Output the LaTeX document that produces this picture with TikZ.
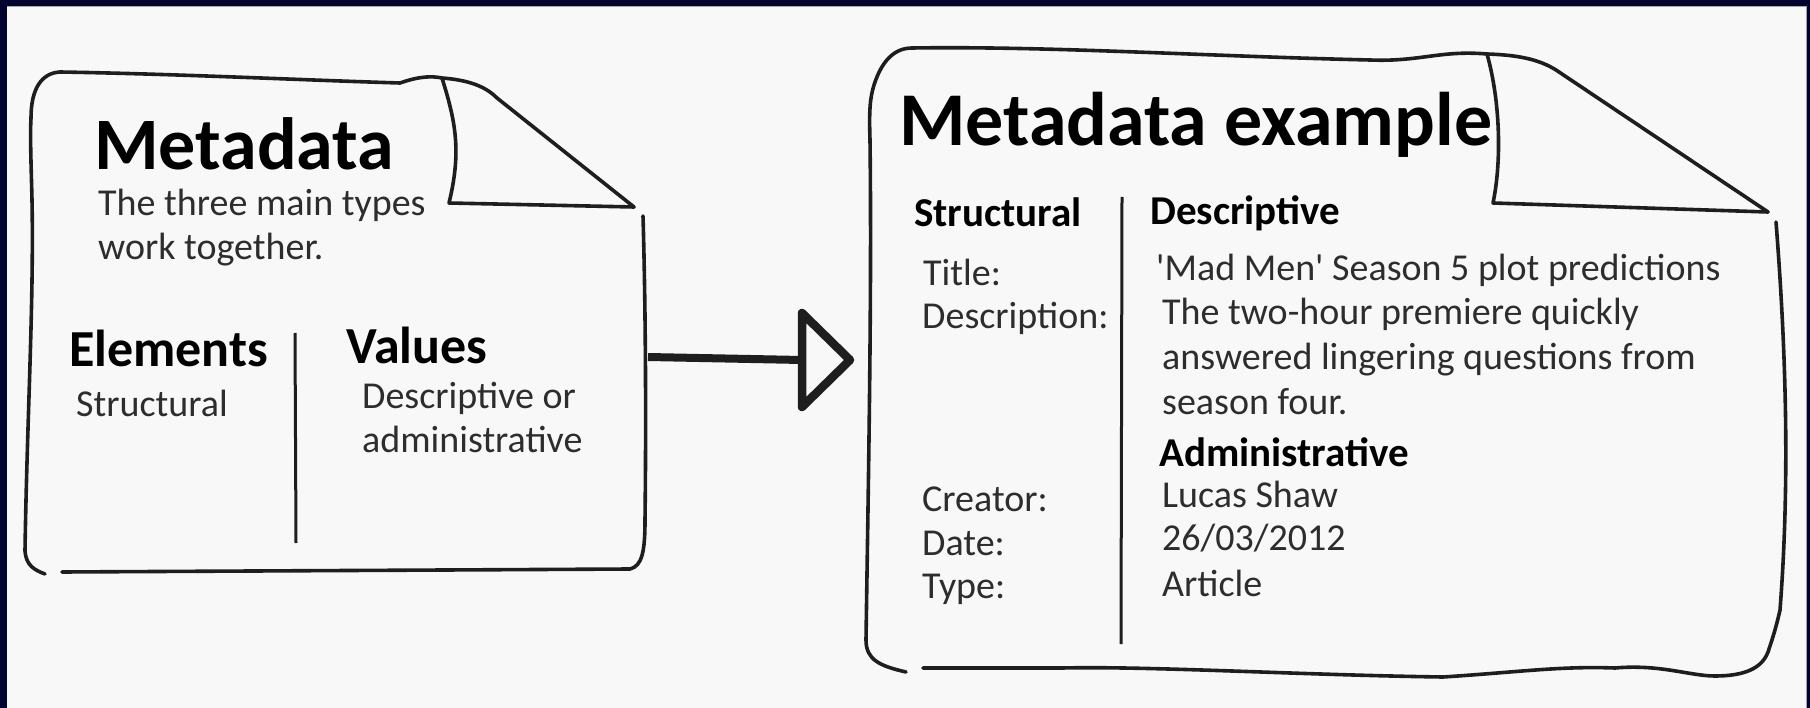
\documentclass[tikz,border=0pt]{standalone}
\usepackage{fontspec}
\setmainfont{Carlito}[Ligatures=TeXOff]
\definecolor{frame}{RGB}{3,3,48}
\definecolor{paper}{RGB}{248,248,248}
\definecolor{ink}{RGB}{30,30,30}
\definecolor{txt}{RGB}{45,45,45}
\tikzset{
  outline/.style={draw=ink, line width=3.6pt, line cap=round, line join=round},
  divider/.style={draw=ink, line width=3pt},
  bigtitle/.style={anchor=base west, inner sep=0pt, font=\fontsize{74}{80}\selectfont\bfseries, text=black},
  headA/.style={anchor=base west, inner sep=0pt, font=\fontsize{52}{56}\selectfont\bfseries, text=black},
  headB/.style={anchor=base west, inner sep=0pt, font=\fontsize{41}{46}\selectfont\bfseries, text=black},
  body/.style={anchor=base west, inner sep=0pt, font=\fontsize{38}{44}\selectfont, text=txt},
}
\begin{document}
\begin{tikzpicture}[x=1pt,y=-1pt]
\useasboundingbox (0,0) rectangle (1810,708);
\fill[frame] (0,0) rectangle (1810,708);
\fill[paper] (7,6) rectangle (1807,708);
\draw[gray!70, line width=1pt] (7,6.5) -- (1806.5,6.5) -- (1806.5,708);

% ---------- left page ----------
\coordinate (L1) at (442,78);
\coordinate (L2) at (634,207);
\draw[outline] (45,574) .. controls (34,570) and (26,565) .. (25,551)
  .. controls (27,420) and (34,300) .. (32,200)
  .. controls (31,160) and (30,135) .. (31,118)
  .. controls (31,88) and (42,73) .. (60,72)
  .. controls (180,74) and (300,80) .. (400,83)
  .. controls (420,76) and (432,76) .. (L1)
  .. controls (468,80) and (485,86) .. (497,98) -- (L2);
\draw[outline] (L1) .. controls (455,120) and (462,150) .. (449,203) -- (L2);
\draw[outline] (643,216) .. controls (646,320) and (646,440) .. (645,520)
  .. controls (645,552) and (642,566) .. (630,569)
  .. controls (450,570) and (250,571) .. (62,572);
\draw[divider] (295,333) -- (296,543);

\node[bigtitle] (lt) at (94,170) {Metadata};
\node[body] (l1) at (98,216) {The three main types};
\node[body] (l2) at (98,260) {work together.};
\node[headA] (le) at (69,367) {Elements};
\node[body] (ls) at (76,417) {Structural};
\node[headA] (lv) at (346,364) {Values};
\node[body] (ld) at (362,409) {Descriptive or};
\node[body] (la) at (362,453) {administrative};

% ---------- arrow ----------
\coordinate (a0) at (648,357);
\coordinate (a1) at (802,360);
\coordinate (at) at (802,313);
\coordinate (ab) at (802,407);
\coordinate (tip) at (850,360);
\draw[ink, line width=8pt] (a0) -- (a1);
\draw[ink, line width=8.5pt, line join=round] (at) -- (tip) -- (ab) -- cycle;

% ---------- right page ----------
\coordinate (R1) at (1487,54);
\coordinate (R2) at (1768,212);
\draw[outline] (906,672) .. controls (880,666) and (866,660) .. (866,640)
  .. controls (868,500) and (872,300) .. (870,140)
  .. controls (869,110) and (870,98) .. (874,85)
  .. controls (882,60) and (895,48) .. (912,48)
  .. controls (1050,46) and (1200,56) .. (1370,60)
  .. controls (1420,62) and (1440,50) .. (R1)
  .. controls (1520,55) and (1540,60) .. (1556,70) -- (R2);
\draw[outline] (R1) .. controls (1500,100) and (1502,160) .. (1493,203) -- (R2);
\draw[outline] (1776,222) .. controls (1786,350) and (1790,480) .. (1780,610)
  .. controls (1776,628) and (1772,640) .. (1768,652)
  .. controls (1762,668) and (1745,676) .. (1715,676)
  .. controls (1690,676) and (1660,664) .. (1615,668)
  .. controls (1560,666) and (1520,672) .. (1443,677)
  .. controls (1300,675) and (1150,666) .. (1062,668)
  .. controls (1020,668) and (960,668) .. (923,668);
\draw[divider] (1122,197) -- (1121,644);

\node[bigtitle, font=\fontsize{76}{80}\selectfont\bfseries] (rt) at (899,146) {Metadata example};
\node[headB] (rs) at (914,227) {Structural};
\node[headB] (rd) at (1150,225) {Descriptive};
\node[body] (k1) at (923,286) {Title:};
\node[body] (k2) at (922,329) {Description:};
\node[body] (k3) at (922,511) {Creator:};
\node[body] (k4) at (922,555) {Date:};
\node[body] (k5) at (922,598) {Type:};
\node[body] (v1) at (1156,281) {'Mad Men' Season 5 plot predictions};
\node[body] (v2) at (1162,325) {The two-hour premiere quickly};
\node[body] (v3) at (1162,370) {answered lingering questions from};
\node[body] (v4) at (1162,414) {season four.};
\node[headB] (ra) at (1159,466) {Administrative};
\node[body] (v5) at (1162,507) {Lucas Shaw};
\node[body] (v6) at (1162,550) {26/03/2012};
\node[body] (v7) at (1162,596) {Article};
\end{tikzpicture}
\end{document}
